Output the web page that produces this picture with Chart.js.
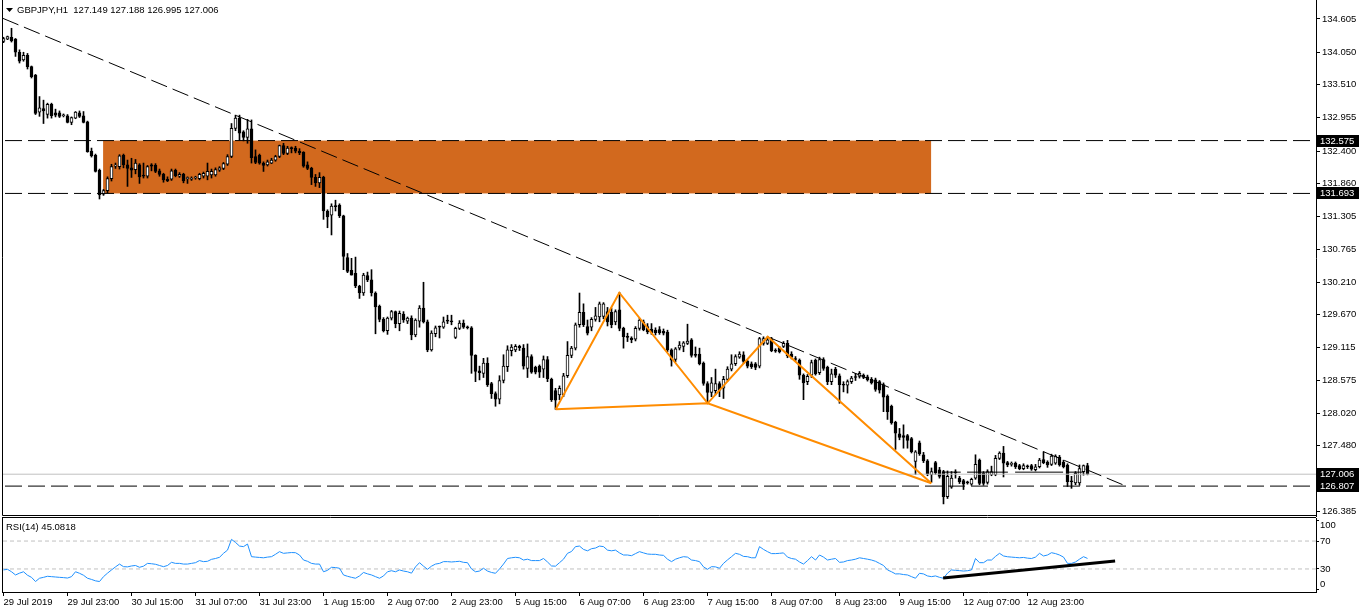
<!DOCTYPE html>
<html><head><meta charset="utf-8">
<script src="https://cdn.jsdelivr.net/npm/chart.js@4.4.1/dist/chart.umd.min.js"></script>
<style>
html,body{margin:0;padding:0;background:#fff;overflow:hidden;}
#wrap{position:relative;width:1362px;height:612px;}
canvas{position:absolute;left:0;}
#main{top:0;}
#rsi{top:517px;}
</style></head><body>
<div id="wrap"><canvas id="main" width="1362" height="517"></canvas><canvas id="rsi" width="1362" height="95"></canvas></div>
<script>
// ---------- DATA ----------
const opens = [134.23,134.27,134.30,134.27,134.05,133.92,134.00,133.81,133.67,133.05,
133.11,133.01,133.18,133.04,133.04,132.99,132.99,132.88,132.95,133.04,
132.99,132.89,132.40,132.33,132.08,131.68,131.74,131.94,132.15,132.14,
132.33,132.17,132.12,132.09,132.17,132.00,131.98,132.17,132.16,132.07,
132.01,131.93,131.93,132.08,131.98,132.01,131.94,131.93,131.95,131.94,
131.98,131.98,132.00,132.00,132.08,132.11,132.18,132.31,132.78,132.95,
132.72,132.63,132.77,132.31,132.33,132.20,132.17,132.20,132.25,132.31,
132.49,132.36,132.44,132.45,132.40,132.38,132.17,132.11,131.96,131.87,
131.96,131.40,131.33,131.49,131.50,131.32,130.62,130.41,130.36,130.14,
130.03,130.32,130.25,130.03,129.81,129.59,129.40,129.61,129.72,129.52,
129.68,129.56,129.61,129.33,129.56,129.78,129.55,129.08,129.35,129.46,
129.46,129.57,129.56,129.29,129.44,129.53,129.46,129.45,128.99,128.73,
128.69,128.86,128.52,128.35,128.26,128.57,128.80,129.07,129.08,129.14,
129.11,128.77,128.97,128.79,128.81,128.76,128.92,128.59,128.40,128.33,
128.33,128.65,128.99,129.11,129.50,129.71,129.47,129.46,129.59,129.63,
129.64,129.72,129.71,129.55,129.75,129.44,129.29,129.28,129.26,129.44,
129.55,129.47,129.43,129.41,129.42,129.39,129.38,129.08,128.92,129.11,
129.14,129.19,129.25,129.00,129.01,128.86,128.52,128.37,128.40,128.52,
128.44,128.59,128.76,128.85,128.96,129.00,128.89,128.85,128.85,128.81,
129.19,129.19,129.26,129.07,129.12,129.14,129.19,129.01,128.93,128.91,
128.66,128.55,128.66,128.91,128.70,128.92,128.79,128.55,128.76,128.65,
128.50,128.49,128.55,128.62,128.64,128.66,128.63,128.59,128.58,128.55,
128.50,128.31,128.14,127.87,127.68,127.65,127.65,127.60,127.22,127.53,
127.33,127.23,127.00,127.20,127.08,127.05,126.63,126.79,127.04,126.94,
126.90,126.87,126.84,126.94,127.24,127.02,126.87,127.00,127.00,127.27,
127.36,127.20,127.17,127.19,127.15,127.10,127.13,127.15,127.08,127.13,
127.25,127.21,127.17,127.19,127.29,127.21,127.16,126.88,126.86,126.86,
127.05,127.149];
const highs = [134.30,134.32,134.45,134.28,134.09,134.05,134.03,133.82,133.68,133.31,
133.25,133.20,133.20,133.10,133.07,133.02,133.01,132.97,133.06,133.07,
133.06,132.90,132.45,132.35,132.10,131.76,131.97,132.18,132.20,132.34,
132.35,132.25,132.28,132.26,132.19,132.20,132.16,132.19,132.19,132.10,
132.03,131.97,132.10,132.10,132.04,132.03,131.97,131.97,131.98,132.03,
132.05,132.20,132.10,132.12,132.14,132.21,132.34,132.86,133.00,133.00,
132.74,132.93,132.92,132.42,132.35,132.22,132.25,132.28,132.33,132.50,
132.53,132.48,132.47,132.48,132.44,132.39,132.22,132.13,132.01,132.04,
131.98,131.42,131.52,131.58,131.52,131.33,130.69,130.61,130.63,130.16,
130.36,130.38,130.42,130.05,129.83,129.62,129.63,129.74,129.73,129.73,
129.72,129.63,129.65,129.60,129.82,130.21,129.58,129.40,129.48,129.48,
129.63,129.66,129.66,129.46,129.57,129.58,129.48,129.47,129.00,128.81,
128.94,128.95,128.54,128.38,128.65,129.00,129.15,129.17,129.17,129.16,
129.17,129.18,129.00,128.81,128.83,128.98,128.97,128.61,128.44,128.48,
128.69,129.22,129.14,129.53,130.03,129.85,129.58,129.62,129.79,129.88,
129.87,129.79,129.78,129.75,130.04,129.46,129.36,129.30,129.47,129.61,
129.58,129.52,129.52,129.45,129.47,129.43,129.41,129.10,129.12,129.22,
129.22,129.51,129.27,129.13,129.11,128.88,128.55,128.62,128.76,128.55,
128.64,128.80,129.00,129.00,129.05,129.05,128.91,128.88,128.87,129.29,
129.30,129.30,129.29,129.10,129.14,129.22,129.24,129.05,128.97,128.93,
128.68,128.67,128.91,128.93,128.96,128.95,128.81,128.76,128.79,128.68,
128.55,128.58,128.64,128.69,128.72,128.68,128.66,128.62,128.61,128.57,
128.53,128.33,128.16,127.89,127.77,127.83,127.67,127.62,127.40,127.56,
127.37,127.25,127.11,127.22,127.12,127.07,127.06,127.05,127.08,126.97,
126.92,126.89,126.94,127.33,127.26,127.05,127.08,127.14,127.32,127.38,
127.47,127.22,127.21,127.21,127.17,127.18,127.16,127.17,127.17,127.27,
127.38,127.23,127.34,127.33,127.32,127.24,127.18,126.97,127.05,127.16,
127.16,127.188];
const lows = [134.21,134.26,134.22,133.98,133.87,133.90,133.77,133.62,133.01,132.98,
132.86,132.95,132.95,132.97,132.96,132.97,132.87,132.84,132.94,132.96,
132.87,132.38,132.30,132.05,131.60,131.66,131.70,131.90,132.11,132.10,
132.12,131.81,131.96,132.02,131.86,131.95,131.95,132.07,132.04,131.98,
131.88,131.89,131.91,131.97,131.96,131.87,131.86,131.91,131.93,131.92,
131.95,131.92,131.95,131.98,132.06,132.09,132.16,132.29,132.74,132.58,
132.57,132.53,132.20,132.19,132.18,132.06,132.15,132.19,132.23,132.29,
132.34,132.34,132.37,132.37,132.34,132.13,132.09,131.84,131.81,131.79,
131.26,131.12,131.00,131.40,131.29,130.42,130.37,130.33,130.12,129.94,
129.99,130.22,129.98,129.35,129.55,129.38,129.34,129.58,129.45,129.40,
129.54,129.52,129.25,129.30,129.46,129.53,129.05,129.06,129.30,129.28,
129.44,129.52,129.50,129.27,129.42,129.44,129.43,128.69,128.55,128.58,
128.62,128.47,128.27,128.14,128.18,128.53,128.72,128.98,129.05,129.07,
128.76,128.62,128.69,128.68,128.62,128.62,128.55,128.22,128.09,128.25,
128.30,128.62,128.95,129.08,129.46,129.47,129.33,129.40,129.56,129.55,
129.60,129.48,129.45,129.50,129.40,129.11,129.22,129.20,129.23,129.41,
129.40,129.35,129.34,129.33,129.34,129.33,129.05,128.81,128.88,129.08,
129.05,129.17,128.96,128.96,128.83,128.49,128.19,128.30,128.33,128.30,
128.27,128.56,128.73,128.82,128.94,128.85,128.78,128.77,128.75,128.78,
129.16,129.17,129.05,129.04,129.03,129.12,128.95,128.93,128.90,128.59,
128.25,128.50,128.62,128.66,128.67,128.74,128.50,128.50,128.62,128.19,
128.38,128.36,128.52,128.57,128.61,128.60,128.56,128.51,128.39,128.36,
128.05,127.92,127.84,127.42,127.58,127.44,127.44,127.36,127.00,127.32,
127.20,126.98,126.87,127.00,126.94,126.51,126.60,126.77,126.94,126.85,
126.75,126.84,126.82,126.92,126.83,126.82,126.84,126.98,126.98,127.25,
126.96,127.13,127.14,127.10,127.08,127.08,127.10,127.07,127.06,127.11,
127.18,127.12,127.15,127.17,127.14,127.11,126.80,126.77,126.83,126.82,
126.99,126.995];
const closes = [134.28,134.31,134.24,134.05,133.90,134.00,133.81,133.64,133.03,133.12,
133.07,133.18,132.99,133.00,132.98,133.00,132.88,132.96,133.05,132.98,
132.88,132.39,132.32,132.06,131.67,131.74,131.94,132.14,132.16,132.32,
132.17,132.11,132.08,132.20,131.97,131.98,132.14,132.15,132.06,132.01,
131.92,131.90,132.07,131.99,132.01,131.90,131.95,131.94,131.96,132.01,
132.03,132.06,132.06,132.09,132.12,132.19,132.31,132.78,132.95,132.70,
132.63,132.77,132.29,132.21,132.20,132.16,132.22,132.25,132.31,132.49,
132.36,132.45,132.44,132.40,132.37,132.15,132.11,131.96,131.87,131.96,
131.40,131.30,131.48,131.47,131.32,130.64,130.39,130.33,130.15,130.03,
130.33,130.25,130.03,129.80,129.59,129.40,129.61,129.72,129.52,129.69,
129.58,129.61,129.33,129.58,129.78,129.55,129.08,129.36,129.45,129.46,
129.55,129.56,129.55,129.44,129.53,129.46,129.45,128.99,128.72,128.70,
128.86,128.50,128.35,128.26,128.57,128.81,129.08,129.13,129.14,129.12,
128.81,128.97,128.71,128.71,128.71,128.92,128.60,128.25,128.24,128.44,
128.65,128.99,129.11,129.50,129.71,129.50,129.36,129.59,129.65,129.85,
129.85,129.55,129.50,129.72,129.44,129.30,129.29,129.25,129.44,129.58,
129.42,129.38,129.37,129.37,129.37,129.36,129.08,128.91,129.10,129.16,
129.20,129.23,128.99,128.99,128.85,128.52,128.37,128.53,128.52,128.41,
128.59,128.76,128.85,128.97,129.01,128.89,128.81,128.80,128.79,129.27,
129.27,129.25,129.07,129.06,129.05,129.19,128.98,128.96,128.92,128.66,
128.53,128.64,128.87,128.68,128.92,128.77,128.55,128.68,128.66,128.50,
128.49,128.55,128.61,128.62,128.69,128.62,128.58,128.53,128.42,128.41,
128.29,128.05,127.86,127.69,127.62,127.62,127.57,127.38,127.38,127.35,
127.23,127.01,127.05,127.03,126.97,126.63,126.97,126.94,127.03,126.88,
126.84,126.86,126.92,127.17,126.85,126.85,127.05,127.05,127.27,127.36,
127.19,127.16,127.18,127.13,127.10,127.15,127.13,127.09,127.13,127.24,
127.20,127.16,127.31,127.31,127.16,127.13,126.88,126.88,127.02,127.10,
127.15,127.006];
const rsiValues = [28.6,29.5,26,21.4,24,26,21,18,12,16.7,
18,19.5,19,18.5,18,17.6,17,19,26,23.8,
21,16.7,15,13,12,19,24,28.6,33,37,
33.3,33,34.3,35,32.4,34,38,37.5,36.7,35,
33.3,35,39.5,38,38,37,37,38,39,42,
40.5,41,43.8,45,46.7,52.4,57,72.4,68,62.8,
62,65.7,47.6,47,46.5,46,47,47.6,51,54.8,
52.4,53,53.5,53.3,50,42.8,41,38,37,37,
26,28,32.4,32,31,21.4,19.5,18,16.7,20,
25,23,21.4,19,16.7,20,26,27.5,26,28.6,
27,26,24,33,39,34,29.5,34,37,38,
40.5,40.5,40,40.5,41,39.5,39,30,26,27,
31,27,25,23.8,30,37,45,46,46.7,46,
42.8,44,42,42,42,45,40,34.3,34,39,
44,52.4,55,62,62.8,58,56,59,60,62.8,
62,57,56,57,53,50,50,49,52,54.8,
53,51.4,51,51,50,49.5,44,40.5,44,46,
47.6,47,42.8,42,40.5,33,29.5,33.3,33,31,
38,43,47.6,52.4,51,48,47.6,46,46,62,
58,54.8,52,52,52.4,53,47,45,44,40,
37,42,47.6,42.8,50,47,42.8,44,45,39.5,
40,42,42.8,44,46,45,44,42.8,41,38,
35,28.6,26,22.9,23,22,21.4,19,16.7,23.8,
22.9,20,19,20,18,16.7,24,28.6,28,27.6,
27,27.5,28.6,45,39,39,42.8,42.8,48,52.4,
48.6,47.5,47,46.5,46,46.5,45.5,45,47,52.4,
48.6,50,53.3,52,50,47,38,38,40,44,
47.6,45.08];
const tickBars = [0,16,32,48,64,80,96,112,128,144,160,176,192,208,224,240,256];
const tickLabels = ['29 Jul 2019','29 Jul 23:00','30 Jul 15:00','31 Jul 07:00','31 Jul 23:00','1 Aug 15:00','2 Aug 07:00','2 Aug 23:00','5 Aug 15:00','6 Aug 07:00','6 Aug 23:00','7 Aug 15:00','8 Aug 07:00','8 Aug 23:00','9 Aug 15:00','12 Aug 07:00','12 Aug 23:00'];
const priceTicks = [134.605,134.050,133.510,132.955,132.400,131.860,131.305,130.765,130.210,129.670,129.115,128.575,128.020,127.480,126.385];
const hLevels = [132.575,131.693,126.807];
const bidPrice = 127.006;
const zoneBars = [24.9,231.9];
const zonePrices = [132.575,131.693];
const trendBars = [-0.2,280.4];
const trendPrices = [134.617,126.814];
const patternBars = [138.05,153.95,176.05,191.05,231.95];
const patternPrices = [128.089,130.036,128.189,129.301,126.854];
const segBars = [[234.7,239.3],[240.9,251.1],[252.9,264.9],[266.1,269.8]];
const segPrice = 127.04;
const rsiLevels = [70,30];
const rsiAxisLabels = [100,70,30,0];
const rsiTrendBars = [234.9,277.9];
const rsiTrendValues = [17,41.4];
const titleText = 'GBPJPY,H1  127.149 127.188 126.995 127.006';
const rsiTitle = 'RSI(14) 45.0818';

// ---------- LAYOUT ----------
const FONT = '"Liberation Sans", Arial, sans-serif';
const FS = 9.5;
const X_MIN = -0.375, X_MAX = -0.375 + 1314/4;
Chart.defaults.font.family = FONT;
Chart.defaults.font.size = FS;
Chart.defaults.color = '#000';

const hline = (p, color, dash, order) => ({type:'line', data:[{x:X_MIN-5,y:p},{x:X_MAX+5,y:p}], borderColor:color, borderWidth:1, borderDash:dash, pointRadius:0, order});

const mainDatasets = [
  {type:'bar', data: highs.map((h,i)=>({x:i,y:[lows[i],h]})), backgroundColor:'#000', borderWidth:0, barThickness:1, grouped:false, minBarLength:1, order:8},
  {type:'bar', data: opens.map((o,i)=>({x:i,y:[o,closes[i]]})), backgroundColor: opens.map((o,i)=> closes[i]>o ? '#fff' : '#000'), borderColor:'#000', borderWidth:1, borderSkipped:false, barThickness:3, grouped:false, minBarLength:1, order:7},
  hline(bidPrice,'#C0C0C0',[],6),
  ...hLevels.map(p=>hline(p,'#000',[17,6],5)),
  ...segBars.map(s=>({type:'line', data:[{x:s[0],y:segPrice},{x:s[1],y:segPrice}], borderColor:'#000', borderWidth:1, pointRadius:0, order:5})),
  {type:'line', data: trendBars.map((b,i)=>({x:b,y:trendPrices[i]})), borderColor:'#000', borderWidth:1, borderDash:[17,6], pointRadius:0, order:4},
  {type:'line', data: patternBars.map((b,i)=>({x:b,y:patternPrices[i]})), borderColor:'#FF8C00', borderWidth:2, pointRadius:0, order:2},
  {type:'line', data: [0,2,4].map(k=>({x:patternBars[k],y:patternPrices[k]})), borderColor:'#FF8C00', borderWidth:2, pointRadius:0, order:2}
];

const mainDecor = {
  id:'mainDecor',
  beforeDatasetsDraw(chart){
    const {ctx, scales:{x,y}} = chart;
    const x1=x.getPixelForValue(zoneBars[0]), x2=x.getPixelForValue(zoneBars[1]);
    const y1=y.getPixelForValue(zonePrices[0]), y2=y.getPixelForValue(zonePrices[1]);
    ctx.save(); ctx.fillStyle='#D2691E'; ctx.fillRect(x1,y1,x2-x1,y2-y1); ctx.restore();
  },
  afterDraw(chart){
    const {ctx, chartArea:a, scales:{y}} = chart;
    ctx.save();
    ctx.strokeStyle='#000'; ctx.lineWidth=1;
    ctx.beginPath(); ctx.moveTo(2.5,0); ctx.lineTo(2.5,a.bottom-0.5); ctx.lineTo(a.right,a.bottom-0.5); ctx.stroke();
    ctx.fillStyle='#000';
    ctx.beginPath(); ctx.moveTo(6,8); ctx.lineTo(13,8); ctx.lineTo(9.5,12); ctx.closePath(); ctx.fill();
    ctx.font = FS+'px '+FONT; ctx.textBaseline='middle'; ctx.textAlign='left';
    ctx.fillText(titleText, 17, 10.5);
    [...hLevels, bidPrice].forEach(p=>{
      const py=Math.round(y.getPixelForValue(p));
      ctx.fillStyle='#000'; ctx.fillRect(a.right+1, py-6, 42, 12);
      ctx.fillStyle='#fff'; ctx.fillText(p.toFixed(3), a.right+4, py+0.5);
    });
    ctx.restore();
  }
};

new Chart(document.getElementById('main'), {
  type:'line',
  data:{datasets: mainDatasets},
  options:{
    responsive:false, animation:false, devicePixelRatio:1, events:[],
    layout:{padding:{left:2,right:0,top:0,bottom:1}},
    plugins:{legend:{display:false}, tooltip:{enabled:false}},
    scales:{
      x:{type:'linear', min:X_MIN, max:X_MAX, display:false, offset:false},
      y:{type:'linear', position:'right', min:126.308, max:134.922,
         afterFit:s=>{s.width=46; s.paddingTop=0; s.paddingBottom=0;},
         afterBuildTicks:s=>{s.ticks=priceTicks.map(v=>({value:v}));},
         ticks:{callback:v=>Number(v).toFixed(3), padding:2, autoSkip:false, color:'#000', font:{size:FS}},
         grid:{drawOnChartArea:false, drawTicks:true, tickLength:4, color:'#000'},
         border:{display:true, color:'#000'}}
    }
  },
  plugins:[mainDecor]
});

// ---------- RSI ----------
const rsiDecor = {
  id:'rsiDecor',
  afterDraw(chart){
    const {ctx, chartArea:a, scales:{y}} = chart;
    ctx.save();
    ctx.strokeStyle='#000'; ctx.lineWidth=1;
    ctx.beginPath(); ctx.moveTo(2,0.5); ctx.lineTo(a.right,0.5); ctx.moveTo(2.5,0); ctx.lineTo(2.5,a.bottom); ctx.stroke();
    ctx.fillStyle='#000'; ctx.font = FS+'px '+FONT; ctx.textBaseline='middle'; ctx.textAlign='left';
    ctx.fillText(rsiTitle, 6, 10);
    rsiAxisLabels.forEach(v=>{
      let py = y.getPixelForValue(v);
      py = Math.min(Math.max(py, a.top+7), a.bottom-8);
      ctx.fillText(String(v), a.right+4, py);
    });
    ctx.restore();
  }
};

new Chart(document.getElementById('rsi'), {
  type:'line',
  data:{datasets:[
    {data: rsiValues.map((v,i)=>({x:i,y:v})), borderColor:'#1E90FF', borderWidth:1, pointRadius:0, tension:0, order:3},
    ...rsiLevels.map(l=>({data:[{x:X_MIN-5,y:l},{x:X_MAX+5,y:l}], borderColor:'#C0C0C0', borderWidth:1, borderDash:[4,3], pointRadius:0, order:4})),
    {data: rsiTrendBars.map((b,i)=>({x:b,y:rsiTrendValues[i]})), borderColor:'#000', borderWidth:3, pointRadius:0, order:1}
  ]},
  options:{
    responsive:false, animation:false, devicePixelRatio:1, events:[],
    layout:{padding:{left:2,right:0,top:1,bottom:0}},
    plugins:{legend:{display:false}, tooltip:{enabled:false}},
    scales:{
      x:{type:'linear', min:X_MIN, max:X_MAX, offset:false,
         afterFit:s=>{s.height=20; s.paddingLeft=0; s.paddingRight=0;},
         afterBuildTicks:s=>{s.ticks=tickBars.map(v=>({value:v}));},
         ticks:{callback:v=>tickLabels[tickBars.indexOf(v)], align:'start', maxRotation:0, minRotation:0, autoSkip:false, padding:1, color:'#000', font:{size:FS}},
         grid:{drawOnChartArea:false, drawTicks:true, tickLength:4, color:'#000'},
         border:{display:true, color:'#000'}},
      y:{type:'linear', position:'right', min:-3, max:103,
         afterFit:s=>{s.width=46; s.paddingTop=0; s.paddingBottom=0;},
         afterBuildTicks:s=>{s.ticks=rsiAxisLabels.map(v=>({value:v}));},
         ticks:{display:false},
         grid:{drawOnChartArea:false, drawTicks:true, tickLength:3, color:'#000'},
         border:{display:true, color:'#000'}}
    }
  },
  plugins:[rsiDecor]
});
</script>
</body></html>
